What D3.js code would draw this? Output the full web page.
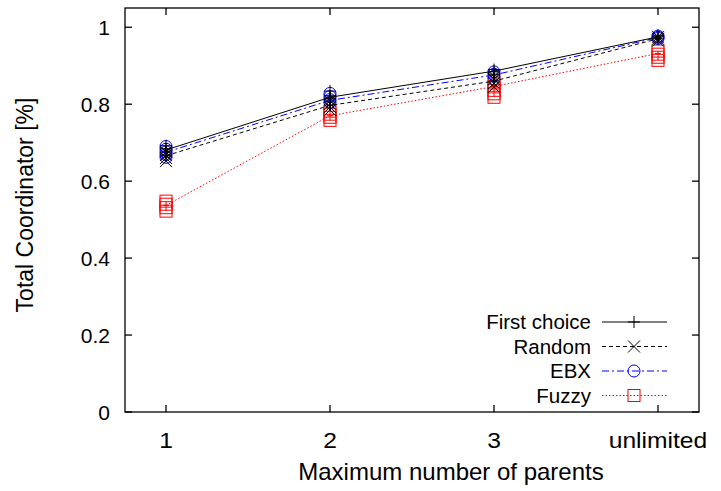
<!DOCTYPE html>
<html><head><meta charset="utf-8">
<script src="https://cdn.jsdelivr.net/npm/d3@7"></script>
<style>body{margin:0;background:#fff}svg{display:block}text{font-family:"Liberation Sans",Arial,sans-serif;fill:#000}</style>
</head><body><svg id="c" width="721" height="491"></svg>
<script>
const categories = ["1", "2", "3", "unlimited"];
const yTicks = [0, 0.2, 0.4, 0.6, 0.8, 1];
const seriesNames = ["First choice", "Random", "EBX", "Fuzzy"];
// mean values (line)
const firstChoice = [0.681, 0.818, 0.886, 0.975];
const random = [0.666, 0.797, 0.860, 0.970];
const ebx = [0.675, 0.810, 0.876, 0.973];
const fuzzy = [0.537, 0.770, 0.846, 0.932];
// individual runs (markers)
const firstChoiceRuns = [[0.668, 0.676, 0.684, 0.692], [0.806, 0.814, 0.822, 0.834], [0.878, 0.884, 0.890], [0.970, 0.975, 0.979]];
const randomRuns = [[0.652, 0.660, 0.668, 0.676], [0.785, 0.793, 0.801, 0.809], [0.845, 0.855, 0.865, 0.872], [0.965, 0.970, 0.975]];
const ebxRuns = [[0.662, 0.669, 0.676, 0.683, 0.690], [0.805, 0.812, 0.820, 0.828], [0.872, 0.878, 0.884], [0.971, 0.974, 0.977]];
const fuzzyRuns = [[0.522, 0.531, 0.540, 0.548], [0.758, 0.766, 0.774, 0.782], [0.818, 0.827, 0.836, 0.845, 0.855], [0.914, 0.922, 0.930, 0.938]];

const svg = d3.select("#c");
const L = 125, R = 699, T = 8, B = 412;
const x = d3.scaleLinear().domain([-0.25, categories.length - 0.75]).range([L, R]);
const y = d3.scaleLinear().domain([0, 1.05]).range([B, T]);

const series = [
  {name: seriesNames[0], vals: firstChoice, runs: firstChoiceRuns, color: "#000", dash: null, marker: "plus"},
  {name: seriesNames[1], vals: random, runs: randomRuns, color: "#000", dash: "4,3", marker: "cross"},
  {name: seriesNames[2], vals: ebx, runs: ebxRuns, color: "#0000ff", dash: "7,3,2,3", marker: "circle"},
  {name: seriesNames[3], vals: fuzzy, runs: fuzzyRuns, color: "#ff0000", dash: "1.5,2", marker: "square"}
];

function drawMarker(g, type, cx, cy, color) {
  const s = 6;
  if (type === "plus") {
    g.append("path").attr("d", `M${cx - s},${cy}H${cx + s}M${cx},${cy - s}V${cy + s}`).attr("stroke", color).attr("fill", "none");
  } else if (type === "cross") {
    g.append("path").attr("d", `M${cx - s},${cy - s}L${cx + s},${cy + s}M${cx - s},${cy + s}L${cx + s},${cy - s}`).attr("stroke", color).attr("fill", "none");
  } else if (type === "circle") {
    g.append("circle").attr("cx", cx).attr("cy", cy).attr("r", s).attr("stroke", color).attr("fill", "none");
  } else {
    g.append("rect").attr("x", cx - s).attr("y", cy - s).attr("width", 2 * s).attr("height", 2 * s).attr("stroke", color).attr("fill", "none");
  }
}

// series
const line = d3.line().x((d, i) => x(i)).y(d => y(d));
series.slice().reverse().forEach(s => {
  const g = svg.append("g");
  g.append("path").datum(s.vals).attr("d", line).attr("fill", "none").attr("stroke", s.color)
    .attr("stroke-width", 1).attr("stroke-dasharray", s.dash);
  s.runs.forEach((arr, i) => {
    const [lo, hi] = d3.extent(arr);
    g.append("line").attr("x1", x(i)).attr("x2", x(i)).attr("y1", y(lo)).attr("y2", y(hi)).attr("stroke", s.color);
    g.append("line").attr("x1", x(i) - 3).attr("x2", x(i) + 3).attr("y1", y(s.vals[i])).attr("y2", y(s.vals[i])).attr("stroke", s.color);
    arr.forEach(v => drawMarker(g, s.marker, x(i), y(v), s.color));
  });
});

// frame and ticks
const ax = svg.append("g").attr("stroke", "#000").attr("stroke-width", 1.3).attr("fill", "none");
ax.append("rect").attr("x", L).attr("y", T).attr("width", R - L).attr("height", B - T);
const tl = 7;
yTicks.forEach(t => {
  ax.append("line").attr("x1", L).attr("x2", L + tl).attr("y1", y(t)).attr("y2", y(t));
  ax.append("line").attr("x1", R).attr("x2", R - tl).attr("y1", y(t)).attr("y2", y(t));
  svg.append("text").attr("x", 110).attr("y", y(t)).attr("dy", "0.36em").attr("text-anchor", "end")
    .attr("font-size", 21).text(d3.format("")(t));
});
categories.forEach((c, i) => {
  ax.append("line").attr("x1", x(i)).attr("x2", x(i)).attr("y1", B).attr("y2", B - tl);
  ax.append("line").attr("x1", x(i)).attr("x2", x(i)).attr("y1", T).attr("y2", T + tl);
  svg.append("text").attr("x", x(i)).attr("y", 440).attr("dy", "0.36em").attr("text-anchor", "middle")
    .attr("font-size", 22).attr("transform", `translate(${x(i)},0) scale(1.12,1) translate(${-x(i)},0)`).text(c);
});

svg.append("text").attr("x", 451).attr("y", 471).attr("dy", "0.36em").attr("text-anchor", "middle")
  .attr("font-size", 24).text("Maximum number of parents");
svg.append("text").attr("transform", `translate(25,205) rotate(-90)`).attr("dy", "0.36em").attr("text-anchor", "middle")
  .attr("font-size", 23).text("Total Coordinator [%]");

// legend
series.forEach((s, i) => {
  const ly = 322 + i * 24.5;
  svg.append("text").attr("x", 591).attr("y", ly).attr("dy", "0.36em").attr("text-anchor", "end")
    .attr("font-size", 20.5).text(s.name);
  const g = svg.append("g");
  g.append("line").attr("x1", 602).attr("x2", 667).attr("y1", ly).attr("y2", ly).attr("stroke", s.color)
    .attr("stroke-dasharray", s.dash);
  drawMarker(g, s.marker, 634, ly, s.color);
});
</script></body></html>
